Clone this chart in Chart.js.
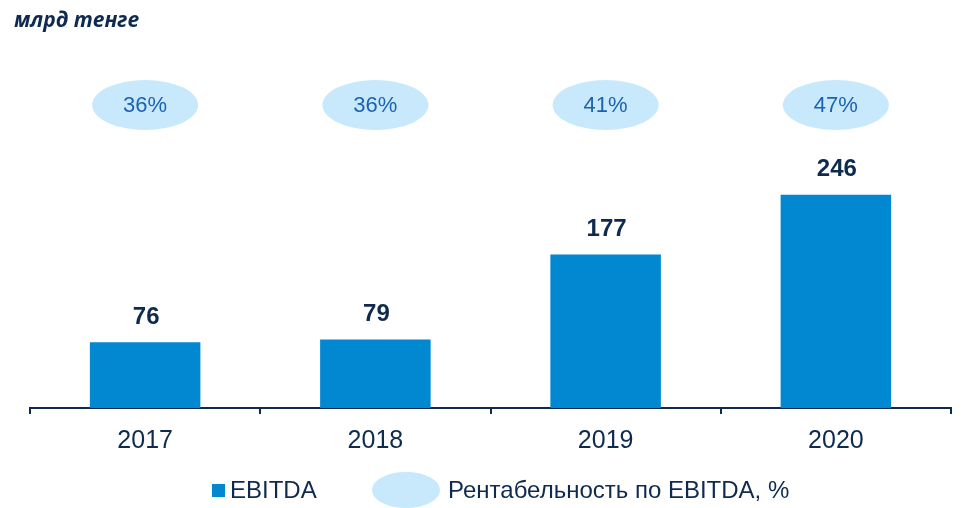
<!DOCTYPE html>
<html>
<head>
<meta charset="utf-8">
<script src="https://cdn.jsdelivr.net/npm/chart.js@4/dist/chart.umd.min.js"></script>
<style>
html,body{margin:0;padding:0;background:#fff;}
#wrap{width:967px;height:508px;}
</style>
</head>
<body>
<div id="wrap"><canvas id="c" width="967" height="508"></canvas></div>
<script>
const categories = ['2017', '2018', '2019', '2020'];
const ebitda = [76, 79, 177, 246];
const margin = [36, 36, 41, 47];
const unitTitle = 'млрд тенге';
const legendLabels = ['EBITDA', 'Рентабельность по EBITDA, %'];

const NAVY = '#0E2A4E';
const BAR = '#0288D1';
const ELL = '#C7E9FB';
const ELL_TEXT = '#1C62B3';
const FONT = '"Liberation Sans", Arial, sans-serif';

const overlay = {
  id: 'overlay',
  afterDatasetsDraw(chart) {
    const ctx = chart.ctx;
    const meta = chart.getDatasetMeta(0);
    const xs = chart.scales.x;
    ctx.save();
    // value labels
    ctx.font = 'bold 24px ' + FONT;
    ctx.fillStyle = NAVY;
    ctx.textAlign = 'center';
    ctx.textBaseline = 'middle';
    meta.data.forEach((bar, i) => {
      ctx.fillText(String(ebitda[i]), bar.x + 1, bar.y - 25);
    });
    // margin ellipses
    categories.forEach((c, i) => {
      const x = xs.getPixelForValue(i);
      ctx.beginPath();
      ctx.ellipse(x, 105, 53, 25, 0, 0, Math.PI * 2);
      ctx.fillStyle = ELL;
      ctx.fill();
      ctx.font = '22px ' + FONT;
      ctx.fillStyle = ELL_TEXT;
      ctx.fillText(margin[i] + '%', x, 106);
    });
    // title
    ctx.textAlign = 'left';
    ctx.font = 'italic bold 21px "Open Sans", sans-serif';
    ctx.fillStyle = NAVY;
    ctx.fillText(unitTitle, 14, 21);
    // legend
    ctx.fillStyle = BAR;
    ctx.fillRect(212, 484, 13, 13);
    ctx.font = '24px ' + FONT;
    ctx.fillStyle = NAVY;
    ctx.fillText(legendLabels[0], 230, 491);
    ctx.beginPath();
    ctx.ellipse(406, 490, 34, 18, 0, 0, Math.PI * 2);
    ctx.fillStyle = ELL;
    ctx.fill();
    ctx.fillStyle = NAVY;
    ctx.fillText(legendLabels[1], 448, 491);
    ctx.restore();
  }
};

new Chart(document.getElementById('c'), {
  type: 'bar',
  data: {
    labels: categories,
    datasets: [{
      label: legendLabels[0],
      data: ebitda,
      backgroundColor: BAR,
      borderWidth: 0,
      barPercentage: 0.96,
      categoryPercentage: 0.5
    }]
  },
  options: {
    responsive: false,
    animation: false,
    devicePixelRatio: 1,
    layout: { padding: { left: 30, right: 16, top: 148, bottom: 40 } },
    plugins: {
      legend: { display: false },
      tooltip: { enabled: false }
    },
    scales: {
      x: {
        offset: true,
        border: { display: true, color: NAVY, width: 2 },
        grid: { display: true, offset: true, drawOnChartArea: false, drawTicks: true, tickLength: 6, color: NAVY, lineWidth: 2 },
        ticks: { color: NAVY, font: { family: FONT, size: 25 }, padding: 12 }
      },
      y: {
        display: false,
        min: 0,
        max: 300
      }
    }
  },
  plugins: [overlay]
});
</script>
</body>
</html>
